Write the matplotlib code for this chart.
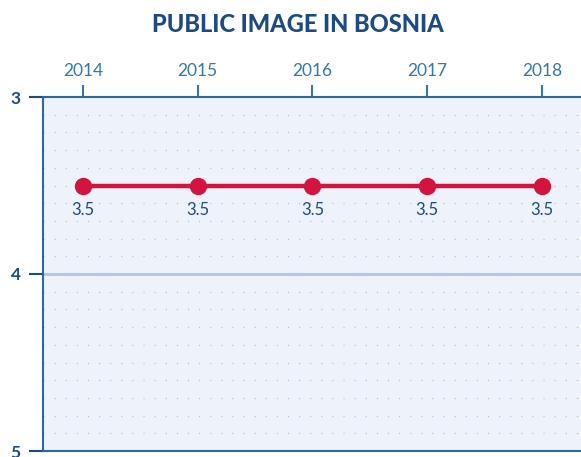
import matplotlib
matplotlib.use("Agg")
import matplotlib.pyplot as plt
import numpy as np

years = [2014, 2015, 2016, 2017, 2018]
scores = [3.5, 3.5, 3.5, 3.5, 3.5]
y_ticks = [3, 4, 5]

navy = "#1b4b86"
blue = "#2f78b0"
red = "#d4133f"
bg = "#eef3fb"

plt.rcParams["font.family"] = ["Lato", "DejaVu Sans"]

fig = plt.figure(figsize=(5.81, 4.57), dpi=100)
ax = fig.add_axes([43 / 581, 6 / 457, 538 / 581, 354 / 457])
ax.set_facecolor(bg)

ax.set_xlim(2014 - 40 / 114.75, 2018 + 39 / 114.75)
ax.set_ylim(5, 3)

# dotted grid rows every 0.1
for yv in np.arange(3.1, 5.0, 0.1):
    if abs(yv - 4) < 1e-6:
        continue
    ax.axhline(yv, color="#b9c3d0", lw=1, ls=(0, (0.8, 7.2)), zorder=1)

ax.axhline(4, color="#a9c9e6", lw=2, zorder=2)

ax.plot(years, scores, color=red, lw=3.2, marker="o", markersize=11.5,
        zorder=4, clip_on=False)
for x, v in zip(years, scores):
    ax.annotate(f"{v}", (x, v), xytext=(0, -12), textcoords="offset points",
                ha="center", va="top", fontsize=12, color=navy)

ax.xaxis.tick_top()
ax.set_xticks(years)
ax.set_xticklabels([str(y) for y in years], fontsize=12.5, color=blue)
ax.set_yticks(y_ticks)
ax.set_yticklabels([str(t) for t in y_ticks], fontsize=12.5, color=navy,
                   fontweight="bold")
ax.tick_params(axis="x", direction="out", length=9, width=1.5, color=blue, pad=4)
ax.tick_params(axis="y", direction="out", length=10, width=1.5, color=navy, pad=6)

for side in ["left", "top", "bottom"]:
    ax.spines[side].set_color("#2a6aa4")
    ax.spines[side].set_linewidth(1.5)
ax.spines["right"].set_visible(False)

fig.text(298 / 581, 1 - 25 / 457, "PUBLIC IMAGE IN BOSNIA", ha="center",
         va="center", fontsize=17, fontweight="black", color=navy)

fig.savefig("out.png", dpi=100)
